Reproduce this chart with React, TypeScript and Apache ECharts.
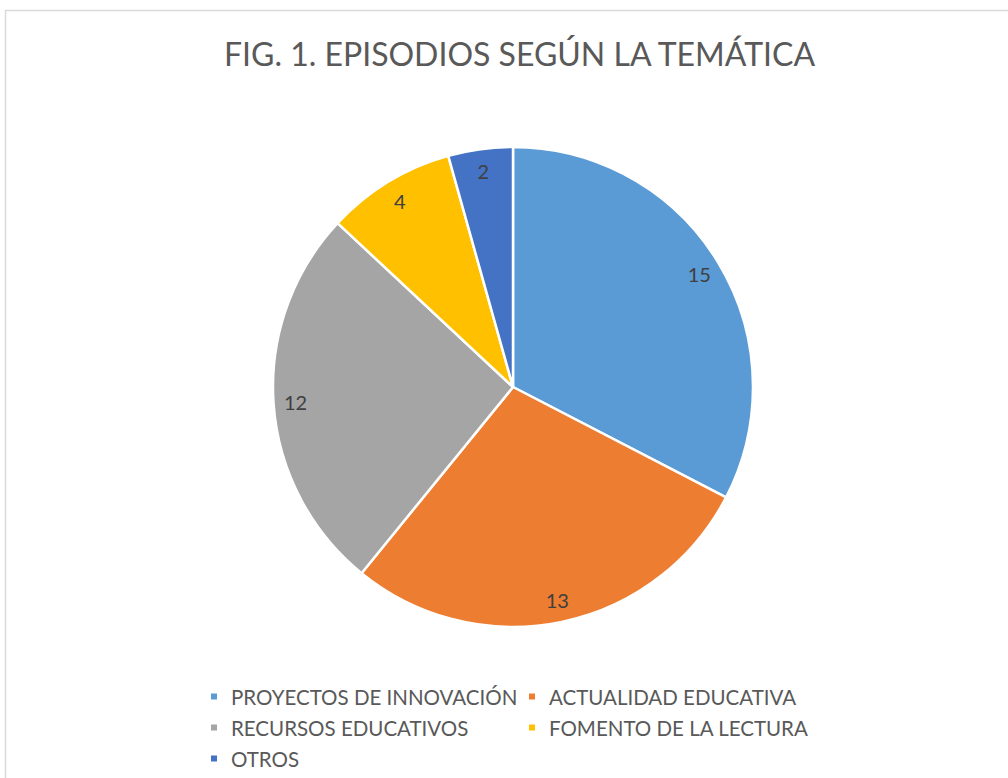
import React, { useEffect, useRef } from "react";
import * as echarts from "echarts";

const categories = [
  "PROYECTOS DE INNOVACIÓN",
  "ACTUALIDAD EDUCATIVA",
  "RECURSOS EDUCATIVOS",
  "FOMENTO DE LA LECTURA",
  "OTROS",
];
const values = [15, 13, 12, 4, 2];
const colors = ["#5B9BD5", "#ED7D31", "#A5A5A5", "#FFC000", "#4472C4"];
const titleText = "FIG. 1. EPISODIOS SEGÚN LA TEMÁTICA";
const legendLeftCol = [categories[0], categories[2], categories[4]];
const legendRightCol = [categories[1], categories[3]];

export default function App() {
  const ref = useRef<HTMLDivElement>(null);
  useEffect(() => {
    if (!ref.current) return;
    const chart = echarts.init(ref.current, null, { renderer: "svg" });
    const data = categories.map((name, i) => ({
      name,
      value: values[i],
      itemStyle: { color: colors[i] },
    }));
    const font = "Lato, 'Open Sans', sans-serif";
    const legendCommon = {
      orient: "vertical" as const,
      icon: "rect",
      itemWidth: 8,
      itemHeight: 8,
      itemGap: 10,
      textStyle: {
        fontFamily: font,
        fontSize: 20.5,
        color: "#595959",
        padding: [0, 0, 0, 8],
        lineHeight: 20,
      },
      selectedMode: false,
    };
    chart.setOption({
      animation: false,
      backgroundColor: "#ffffff",
      title: {
        text: titleText,
        left: 219,
        top: 32,
        textStyle: {
          fontFamily: font,
          fontSize: 32,
          fontWeight: "normal",
          color: "#595959",
        },
      },
      legend: [
        { ...legendCommon, data: legendLeftCol, left: 204, top: 681 },
        { ...legendCommon, data: legendRightCol, left: 522, top: 681 },
      ],
      graphic: [
        {
          type: "rect",
          shape: { x: 5.5, y: 10.5, width: 1010, height: 780 },
          style: { fill: "none", stroke: "#d9d9d9", lineWidth: 1.5 },
          silent: true,
        },
      ],
      series: [
        {
          type: "pie",
          center: [513, 387],
          radius: [0, 240],
          startAngle: 90,
          clockwise: true,
          data,
          label: { show: false },
          labelLine: { show: false },
          itemStyle: { borderColor: "#ffffff", borderWidth: 2.5 },
          emphasis: { disabled: true },
        },
        {
          type: "pie",
          center: [513, 387],
          radius: [190, 240],
          startAngle: 90,
          clockwise: true,
          silent: true,
          data: categories.map((name, i) => ({
            name,
            value: values[i],
            itemStyle: { color: "rgba(0,0,0,0)" },
          })),
          label: {
            show: true,
            position: "inside",
            formatter: "{c}",
            fontFamily: font,
            fontSize: 20,
            color: "#404040",
          },
          labelLine: { show: false },
          itemStyle: { borderWidth: 0 },
          emphasis: { disabled: true },
        },
      ],
    });
    return () => chart.dispose();
  }, []);
  return (
    <div
      ref={ref}
      style={{ position: "absolute", left: 0, top: 0, width: 1008, height: 778 }}
    />
  );
}
